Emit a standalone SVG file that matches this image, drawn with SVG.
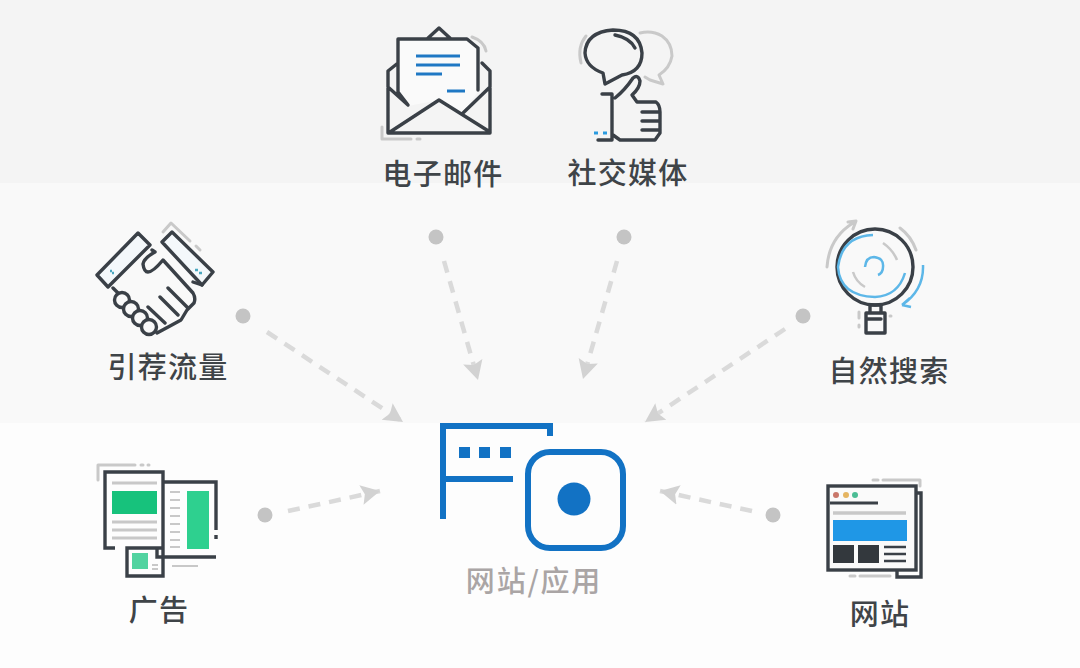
<svg xmlns="http://www.w3.org/2000/svg" width="1080" height="668" viewBox="0 0 1080 668">
<style>
.lb{font-family:"Noto Sans CJK SC","Liberation Sans",sans-serif;font-size:29px;font-weight:500;fill:#3f4448;text-anchor:middle;letter-spacing:1.2px}
.ic{fill:none;stroke:#3a4047;stroke-width:3.4;stroke-linejoin:round;stroke-linecap:round}
.gr{fill:none;stroke:#c9c9c9;stroke-width:3;stroke-linecap:round;stroke-linejoin:round}
.bl{fill:none;stroke:#1f78c4;stroke-width:3}
.cn{fill:none;stroke:#dadada;stroke-width:4.5;stroke-dasharray:12 9}
.dot{fill:#c4c4c4}
.ah{fill:#d2d2d2}
.mb{fill:none;stroke:#1272c4;stroke-width:6}
</style>
<defs>
<marker id="arr" markerWidth="22" markerHeight="24" refX="19" refY="11" orient="auto" markerUnits="userSpaceOnUse">
<path class="ah" d="M0 1L19 11L0 21L3.5 11Z"/>
</marker>
</defs>
<rect width="1080" height="183" fill="#f4f4f4"/>
<rect y="183" width="1080" height="240" fill="#f9f9f9"/>
<rect y="423" width="1080" height="245" fill="#fdfdfd"/>

<g id="connectors">
<circle class="dot" cx="436" cy="237" r="7.5"/>
<path class="cn" d="M444 261L478 380" marker-end="url(#arr)"/>
<circle class="dot" cx="624" cy="237" r="7.5"/>
<path class="cn" d="M617 261L583 379" marker-end="url(#arr)"/>
<circle class="dot" cx="243" cy="316" r="7.5"/>
<path class="cn" d="M267 332L403 422" marker-end="url(#arr)"/>
<circle class="dot" cx="803" cy="316" r="7.5"/>
<path class="cn" d="M785 329L645 422" marker-end="url(#arr)"/>
<circle class="dot" cx="265" cy="515" r="7.5"/>
<path class="cn" d="M288 511L380 491" marker-end="url(#arr)"/>
<circle class="dot" cx="773" cy="515" r="7.5"/>
<path class="cn" d="M752 511L660 491" marker-end="url(#arr)"/>
</g>

<g id="node-email">
<path class="gr" d="M382 127V139H411M417 139H420M472 37Q484 41 486 51"/>
<path d="M398 39H467L478 48V92L462 113L439 100L408 106L398 90Z" fill="#fafafa"/>
<path class="ic" d="M408 105L398 92V39H467L478 48V90M398 63L388 71V133H490V71L482 63M388 87L408 105M490 87L463 113M427 39L439 28L451 39M390 132L439 100L490 132"/>
<path class="bl" d="M416 56H460M416 65H460M416 74H442M447 91H465"/>
<text class="lb" x="443" y="185">电子邮件</text>
</g>

<g id="node-social">
<path class="gr" d="M581 63Q577 47 586 36M640 33Q652 30 662 36Q672 43 672 56Q670 68 659 75L663 84L650 80L645 77"/>
<path class="ic" d="M603 73L605 84L622 75Q642 72 642 53Q640 30 613 30Q586 32 585 53Q586 67 603 73ZM615 35Q630 38 635 48"/>
<path class="ic" d="M602 94H612V140H598M615 98Q625 90 633 78Q638 74 640 81Q640 88 632 95L637 102H656Q660 105 660 112V133L655 140H620L613 135M642 112H660M642 121H660M642 130H658"/>
<path fill="none" stroke="#2a9be0" stroke-width="3" d="M594 133H598M603 133H607"/>
<text class="lb" x="628" y="184">社交媒体</text>
</g>

<g id="node-referral">
<path class="gr" d="M163 232L171 223L190 241M196 246L200 250"/>
<path class="ic" style="fill:#f4f8fb" d="M97 275L138 233L150 245L108 287ZM172 232L213 272L202 285L162 242Z"/>
<path class="ic" d="M152 250L155 252Q144 258 143 264Q144 272 148 272Q153 272 163 260L193 293Q196 298 194 303L187 310L181 320L170 326L157 333M113 288L119 294M202 285L193 282M168 288L187 307M160 297L178 315M148 307L165 323"/>
<circle class="ic" style="fill:#f9f9f9" cx="122" cy="300" r="7.5"/>
<circle class="ic" style="fill:#f9f9f9" cx="131" cy="309" r="7.5"/>
<circle class="ic" style="fill:#f9f9f9" cx="140" cy="318" r="7.5"/>
<circle class="ic" style="fill:#f9f9f9" cx="149" cy="327" r="7.5"/>
<path d="M110 271h2M112 273h2M195 270h3M199 273h3" stroke="#4aa7c0" stroke-width="2.5"/>
<text class="lb" x="168" y="378">引荐流量</text>
</g>

<g id="node-search">
<path class="gr" d="M827 267Q829 238 853 223M848 222L856 221L853 229M900 228Q911 236 916 250"/>
<circle class="ic" cx="875" cy="267" r="38"/>
<path fill="none" stroke="#5db7e8" stroke-width="2.5" d="M873 235Q842 236 838 267Q840 296 875 297Q898 296 905 273M923 265Q924 290 902 305M902 305L910 298M902 305L911 307M865 267Q866 257 874 257Q884 258 883 267Q883 273 878 275"/>
<path fill="none" stroke="#c9c9c9" stroke-width="2.5" d="M883 243Q893 250 897 260M853 272Q856 282 865 287"/>
<path class="ic" d="M870 305V313M881 305V313M870 305H881M866 313H885V333H866ZM866 319H881"/>
<path class="gr" d="M859 312V318M859 325V327M890 316H891"/>
<text class="lb" x="889" y="382">自然搜索</text>
</g>

<g id="node-ads">
<path class="gr" d="M98 480V465H135M141 465H143M148 465H149"/>
<path class="ic" style="stroke-linecap:butt;stroke-linejoin:miter" d="M115 548H105V472H163V548M163 482H216V530M216 535V539M157 548V557H216M127 548H163V576H127Z"/>
<rect x="112" y="491" width="45" height="23" fill="#17c27c"/>
<rect x="187" y="491" width="22" height="58" fill="#2ed08f"/>
<rect x="132" y="553" width="16" height="16" fill="#52d3a0"/>
<path fill="none" stroke="#c8c8c8" stroke-width="3" d="M112 483H157M112 522H157M112 530H157M112 538H157"/>
<path fill="none" stroke="#c8c8c8" stroke-width="2" d="M170 492H180M170 500H180M170 508H180M170 516H180M170 524H180M170 532H180M170 540H180M170 547H180M152 565H158M152 569H158M172 566H198"/>
<text class="lb" x="159" y="621">广告</text>
</g>

<g id="node-website">
<path class="gr" d="M873 480H878M883 480H920V486M850 576H855M860 576H890"/>
<rect x="828" y="486" width="88" height="84" fill="#fafafa" stroke="#3a4047" stroke-width="3.4"/>
<path class="ic" style="stroke-linecap:butt;stroke-linejoin:miter" d="M917 493H921V577H897V570"/>
<path d="M830 503H878" stroke="#3a4047" stroke-width="3"/>
<circle cx="836" cy="495" r="3" fill="#c9776a"/>
<circle cx="846" cy="495" r="3" fill="#e5b562"/>
<circle cx="855" cy="495" r="3" fill="#4bbd95"/>
<path d="M833 513H906" stroke="#c8c8c8" stroke-width="3.5"/>
<rect x="833" y="520" width="74" height="21" fill="#1f97e6"/>
<rect x="833" y="545" width="21" height="18" fill="#33383d"/>
<rect x="858" y="545" width="21" height="18" fill="#33383d"/>
<path d="M884 547H906M884 554H906M884 561H906" stroke="#3a4047" stroke-width="2.5"/>
<text class="lb" x="880" y="625">网站</text>
</g>

<g id="node-app">
<path class="mb" d="M443 519V426H550V436M443 479H513"/>
<rect x="459" y="447" width="11" height="11" fill="#1272c4"/>
<rect x="479" y="447" width="11" height="11" fill="#1272c4"/>
<rect x="500" y="447" width="11" height="11" fill="#1272c4"/>
<rect x="528" y="452" width="95" height="96" rx="22" class="mb"/>
<circle cx="574" cy="499" r="16.5" fill="#1272c4"/>
<text class="lb" x="534" y="592" style="fill:#aaa5a5;letter-spacing:1.8px">网站/应用</text>
</g>
</svg>
